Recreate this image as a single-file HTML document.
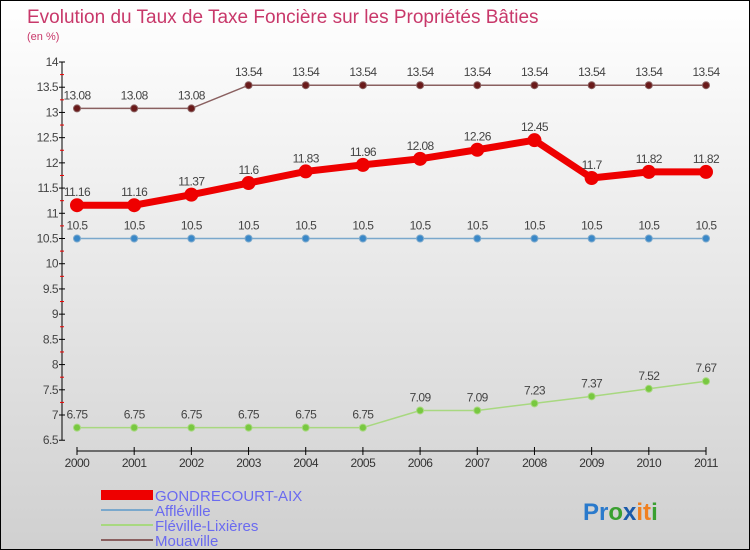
<!DOCTYPE html>
<html><head><meta charset="utf-8"><style>
body{margin:0}
#c{position:relative;width:750px;height:550px;box-sizing:border-box;border:1px solid #000;background:linear-gradient(#fff,#d0d0d0);font-family:"Liberation Sans",sans-serif;overflow:hidden}
</style></head><body>
<div id="c">
<svg id="s" width="750" height="550" style="position:absolute;left:0;top:0">
<text x="26" y="22" font-size="19" fill="#c8386a">Evolution du Taux de Taxe Foncière sur les Propriétés Bâties</text>
<text x="26" y="39" font-size="11" fill="#c8386a">(en %)</text>
<g id="ax"></g><g id="ser"></g>
<rect x="100" y="489" width="52" height="10" fill="#ee0000"/>
<rect x="100" y="508" width="52" height="2" fill="#7aa8cc"/>
<rect x="100" y="523" width="52" height="2" fill="#a8d880"/>
<rect x="100" y="538" width="52" height="2" fill="#8a6060"/>
<g font-size="15" fill="#6a6af0">
<text x="154" y="500">GONDRECOURT-AIX</text>
<text x="154" y="515">Affléville</text>
<text x="154" y="530">Fléville-Lixières</text>
<text x="154" y="545">Mouaville</text>
</g>
<text x="582" y="519" font-size="24" font-weight="bold"><tspan fill="#2a7acc">Pr</tspan><tspan fill="#3aa030">o</tspan><tspan fill="#1a5aaa">x</tspan><tspan fill="#f08020">it</tspan><tspan fill="#3aa030">i</tspan></text>
</svg>
</div>
<script>
const years=[2000,2001,2002,2003,2004,2005,2006,2007,2008,2009,2010,2011];
const yTicks=[6.5,7,7.5,8,8.5,9,9.5,10,10.5,11,11.5,12,12.5,13,13.5,14];
const mouaville=[13.08,13.08,13.08,13.54,13.54,13.54,13.54,13.54,13.54,13.54,13.54,13.54];
const gondrecourt=[11.16,11.16,11.37,11.6,11.83,11.96,12.08,12.26,12.45,11.7,11.82,11.82];
const affleville=[10.5,10.5,10.5,10.5,10.5,10.5,10.5,10.5,10.5,10.5,10.5,10.5];
const fleville=[6.75,6.75,6.75,6.75,6.75,6.75,7.09,7.09,7.23,7.37,7.52,7.67];
const NS="http://www.w3.org/2000/svg";
const X=i=>76+i*(705-76)/(years.length-1);
const Y=v=>61+(14-v)*50.43;
function mk(p,t,a){const e=document.createElementNS(NS,t);for(const k in a)e.setAttribute(k,a[k]);p.appendChild(e);return e;}
const ax=document.getElementById('ax'),ser=document.getElementById('ser');
const yl=mk(ax,'line',{x1:61,y1:Y(14),x2:61,y2:Y(6.5),stroke:'#000'});


yTicks.forEach(v=>{
 mk(ax,'line',{x1:58,y1:Y(v),x2:64,y2:Y(v),stroke:'#000'});
 if(v>6.5)mk(ax,'line',{x1:59,y1:Y(v+0.25)-0,x2:63,y2:Y(v+0.25),stroke:'#e00'}).setAttribute('opacity',v<14?1:0);
 const t=mk(ax,'text',{x:57,y:Y(v)+4,'text-anchor':'end','font-size':12,fill:'#444','letter-spacing':'-0.5'});
 t.textContent=String(v);
 
 
});
const xl=mk(ax,'line',{x1:X(0),y1:450,x2:X(11),y2:450,stroke:'#000'});


years.forEach((y,i)=>{
 mk(ax,'line',{x1:X(i),y1:446,x2:X(i),y2:454,stroke:'#000'});
 const t=mk(ax,'text',{x:X(i),y:466,'text-anchor':'middle','font-size':12,fill:'#333','letter-spacing':'-0.5'});
 t.textContent=y;
 
 
});
function series(d,name,col,dot,w,r){
 const g=mk(ser,'g',{});
 
 
 mk(g,'polyline',{points:d.map((v,i)=>X(i)+','+Y(v)).join(' '),fill:'none',stroke:col,'stroke-width':w});
 d.forEach((v,i)=>{
  const c=mk(g,'circle',{cx:X(i),cy:Y(v),r:r,fill:dot,stroke:col,'stroke-width':1});
  
  
  const t=mk(g,'text',{x:X(i),y:Y(v)-9,'text-anchor':'middle','font-size':12,fill:'#444','letter-spacing':'-0.6'});
  t.textContent=String(v);
  
  
 });
}
series(mouaville,'mouaville','#8a6060','#6a1a1a',1.5,3.5);
series(affleville,'affleville','#7aa8cc','#3a88c8',1.5,3.5);
series(fleville,'fleville','#a8d880','#78c840',1.5,3.5);
series(gondrecourt,'gondrecourt','#ee0000','#ee0000',7,6.5);
</script>
</body></html>
